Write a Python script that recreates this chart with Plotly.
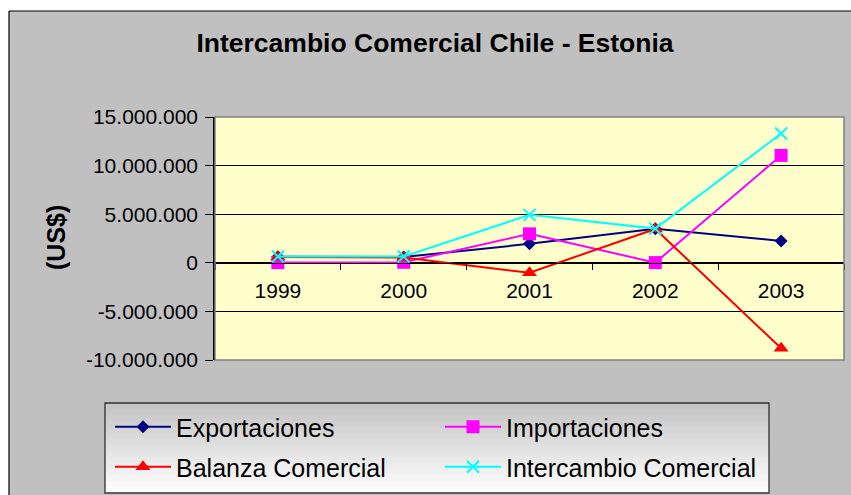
import plotly.graph_objects as go

# ---- data ----
years = ["1999", "2000", "2001", "2002", "2003"]
exportaciones = [620000, 600000, 1950000, 3500000, 2250000]
importaciones = [20000, 50000, 2980000, 20000, 11050000]
balanza = [600000, 550000, -1030000, 3480000, -8800000]
intercambio = [640000, 650000, 4930000, 3520000, 13300000]

y_tickvals = [-10000000, -5000000, 0, 5000000, 10000000, 15000000]
y_ticktext = ["-10.000.000", "-5.000.000", "0", "5.000.000", "10.000.000", "15.000.000"]

title_text = "Intercambio Comercial Chile - Estonia"
y_title = "(US$)"

# ---- geometry ----
W, H = 851, 495
L, R, T, B = 215, 7, 117, 135
pw, ph = W - L - R, H - T - B


def px(x):
    return (x - L) / pw


def py(y):
    return (H - B - y) / ph


FONT = "Arial, Liberation Sans, sans-serif"

fig = go.Figure()

series = [
    ("Exportaciones", exportaciones, "#000080", "diamond", 10, "legend"),
    ("Importaciones", importaciones, "#FF00FF", "square", 13, "legend2"),
    ("Balanza Comercial", balanza, "#FF0000", "triangle-up", 13, "legend3"),
    ("Intercambio Comercial", intercambio, "#00FFFF", "x-thin", 12, "legend4"),
]
for name, vals, col, sym, size, lg in series:
    marker = dict(symbol=sym, size=size, color=col)
    if sym == "x-thin":
        marker["line"] = dict(color=col, width=2)
    fig.add_trace(go.Scatter(
        x=years, y=vals, name=name, mode="lines+markers",
        line=dict(color=col, width=2), marker=marker, legend=lg,
    ))

shapes = []
# white outer strips + black chart border
shapes.append(dict(type="rect", xref="paper", yref="paper", x0=px(-5), x1=px(W + 5),
                   y0=py(11), y1=py(-5), fillcolor="white", line=dict(width=0), layer="above"))
shapes.append(dict(type="rect", xref="paper", yref="paper", x0=px(-5), x1=px(9),
                   y0=py(H + 5), y1=py(-5), fillcolor="white", line=dict(width=0), layer="above"))
shapes.append(dict(type="line", xref="paper", yref="paper", x0=px(9), x1=px(W + 5),
                   y0=py(11), y1=py(11), line=dict(color="black", width=1.2), layer="above"))
shapes.append(dict(type="line", xref="paper", yref="paper", x0=px(9), x1=px(9),
                   y0=py(11), y1=py(H + 5), line=dict(color="black", width=1.2), layer="above"))

# legend gradient background
lx0, lx1, ly0, ly1 = 105, 769, 403, 493
n = 45
for i in range(n):
    t = i / (n - 1)
    c = int(196 + (255 - 196) * t)
    ya = ly0 + (ly1 - ly0) * i / n
    yb = ly0 + (ly1 - ly0) * (i + 1) / n
    shapes.append(dict(type="rect", xref="paper", yref="paper", x0=px(lx0), x1=px(lx1),
                       y0=py(yb + 0.5), y1=py(ya), fillcolor=f"rgb({c},{c},{c})",
                       line=dict(width=0), layer="below"))
shapes.append(dict(type="rect", xref="paper", yref="paper", x0=px(lx0), x1=px(lx1),
                   y0=py(ly1), y1=py(ly0), line=dict(color="#303030", width=1.3),
                   fillcolor="rgba(0,0,0,0)", layer="above"))
# plot-area border (grey, top/right)
shapes.append(dict(type="rect", xref="paper", yref="paper", x0=0, x1=1, y0=0, y1=1,
                   line=dict(color="#808080", width=1.5), fillcolor="rgba(0,0,0,0)", layer="above"))

legend_common = dict(bgcolor="rgba(0,0,0,0)", borderwidth=0, xref="container", yref="container",
                     xanchor="left", yanchor="middle", itemwidth=56,
                     font=dict(family=FONT, size=25, color="black"))
lpos = {"legend": (110, 427), "legend2": (440, 427), "legend3": (110, 467), "legend4": (440, 467)}
legends = {k: dict(legend_common, x=v[0] / W, y=1 - v[1] / H) for k, v in lpos.items()}

fig.update_layout(
    width=W, height=H,
    margin=dict(l=L, r=R, t=T, b=B, pad=0, autoexpand=False),
    paper_bgcolor="#C0C0C0",
    plot_bgcolor="#FFFFCC",
    showlegend=True,
    title=dict(text="<b>" + title_text + "</b>", x=435 / W, xref="container", xanchor="center",
               y=1 - 43 / H, yref="container", yanchor="middle",
               font=dict(family=FONT, size=26.5, color="black")),
    xaxis=dict(type="category", anchor="free", position=0.4, showline=True, linecolor="black",
               linewidth=1, ticks="outside", ticklen=6, tickcolor="black", tickson="boundaries",
               showgrid=False, ticklabelstandoff=9, automargin=False, tickangle=0,
               tickfont=dict(family=FONT, size=21, color="black"), range=[-0.5, 4.5]),
    yaxis=dict(range=[-10000000, 15000000], tickvals=y_tickvals, ticktext=y_ticktext,
               showline=True, linecolor="black", linewidth=1.5, ticks="outside", ticklen=8,
               tickcolor="black", showgrid=True, gridcolor="black", gridwidth=1, automargin=False,
               zeroline=True, zerolinecolor="black", zerolinewidth=1, ticklabelstandoff=3,
               tickfont=dict(family=FONT, size=21, color="black")),
    shapes=shapes,
    annotations=[dict(text="<b>" + y_title + "</b>", xref="paper", yref="paper", x=px(56), y=py(238),
                      textangle=-90, showarrow=False, xanchor="center", yanchor="middle",
                      font=dict(family=FONT, size=25, color="black"))],
    **legends,
)

fig.write_html("out.html", config={"displayModeBar": False},
               post_script="document.body.style.margin='0px';")
